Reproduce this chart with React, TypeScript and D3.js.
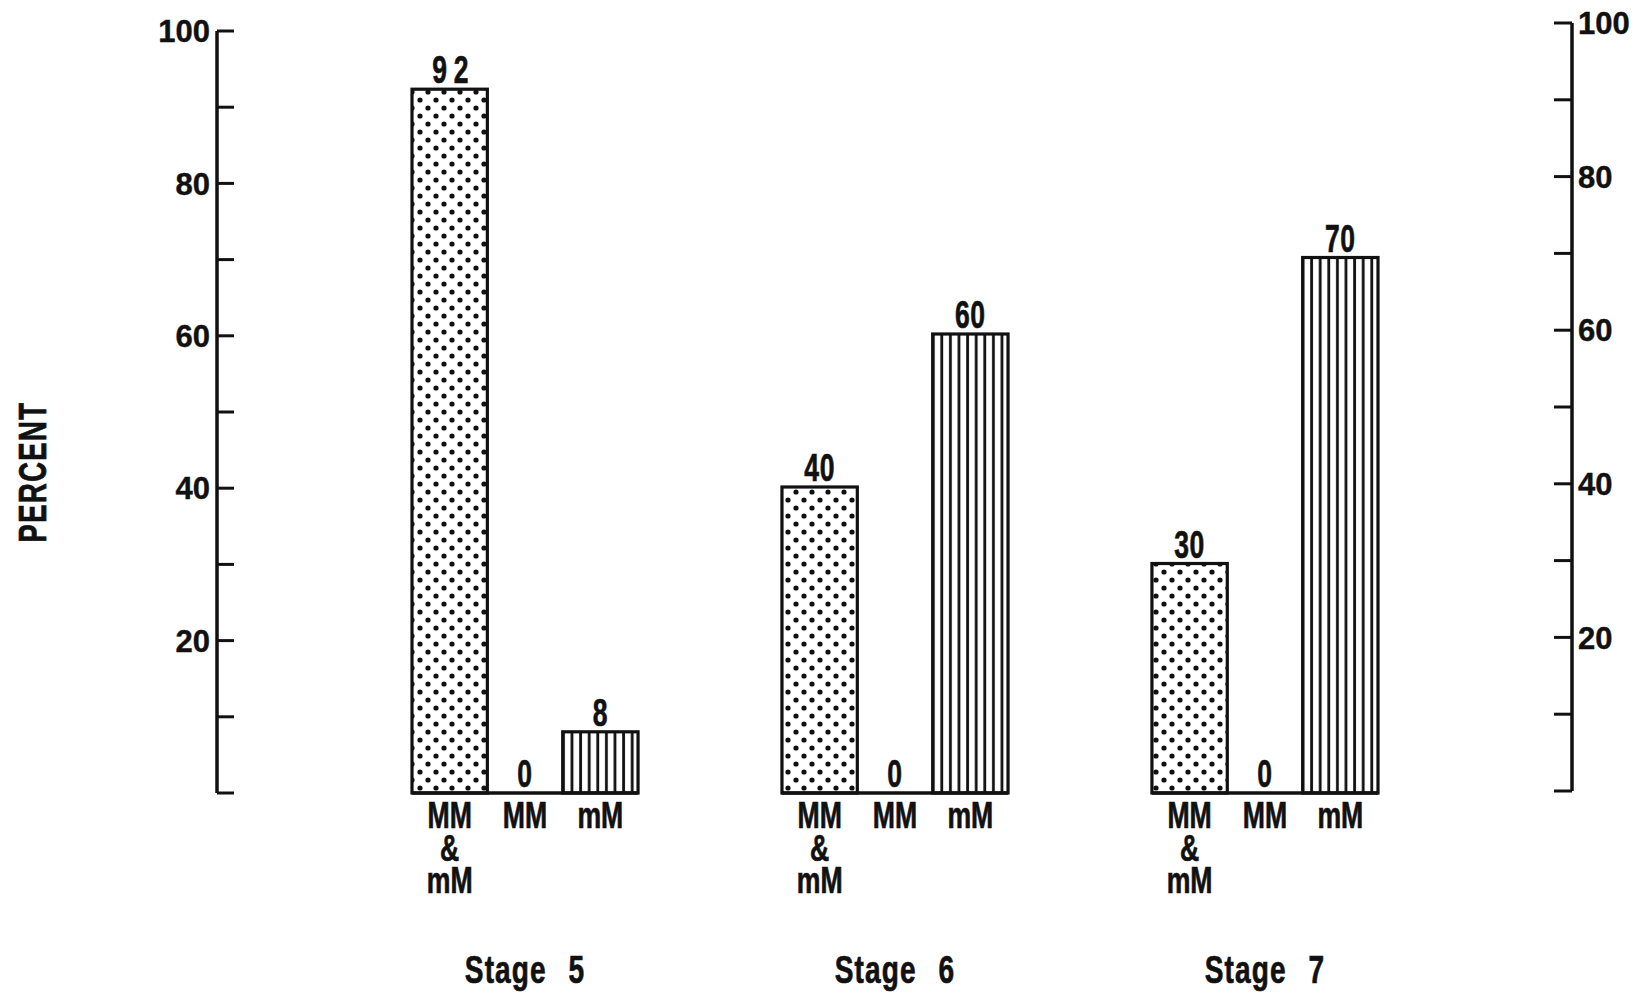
import React from "react";
import * as d3 from "d3";

const stages = ["Stage 5", "Stage 6", "Stage 7"];
const categories = ["MM & mM", "MM", "mM"];
const categoryLines = [["MM", "&", "mM"], ["MM"], ["mM"]];
const stage5 = [92, 0, 8];
const stage6 = [40, 0, 60];
const stage7 = [30, 0, 70];
const seriesByStage = [stage5, stage6, stage7];
const leftTicks = [0, 10, 20, 30, 40, 50, 60, 70, 80, 90, 100];
const leftTickLabels = [20, 40, 60, 80, 100];
const rightTickLabels = [20, 40, 60, 80, 100];
const patterns = ["dots", "none", "lines"];

const W = 1635;
const H = 998;
const sans = "Liberation Sans, Arial, Helvetica, sans-serif";

function CondText(props: {
  x: number;
  y: number;
  size: number;
  sx?: number;
  sy?: number;
  anchor?: string;
  ls?: number;
  ws?: number;
  rotate?: number;
  children: React.ReactNode;
}) {
  const { x, y, size, sx = 0.7, sy = 1, anchor = "middle", ls = 0, ws = 0, rotate = 0 } = props;
  return (
    <text
      transform={`translate(${x},${y}) rotate(${rotate}) scale(${sx},${sy})`}
      textAnchor={anchor}
      fontFamily={sans}
      fontWeight={700}
      fontSize={size}
      letterSpacing={ls}
      wordSpacing={ws}
      fill="#111"
      stroke="#111"
      strokeWidth={0.7}
    >
      {props.children}
    </text>
  );
}

export default function App() {
  const x = d3.scaleBand<string>().domain(stages).range([412, 1378]).paddingInner(0.389).paddingOuter(0);
  const xi = d3.scaleBand<string>().domain(categories).range([0, x.bandwidth()]).padding(0);
  const y = d3.scaleLinear().domain([0, 100]).range([793, 28]);
  const yAxL = d3.scaleLinear().domain([0, 100]).range([793, 31]);
  const yR = d3.scaleLinear().domain([0, 100]).range([791, 23]);
  const axL = 217;
  const axR = 1572;

  return (
    <svg width={W} height={H} style={{ position: "absolute", left: 0, top: 0, background: "#fff" }}>
      <defs>
        <pattern id="dots" patternUnits="userSpaceOnUse" width={16} height={16}>
          <circle cx={4} cy={4} r={2.6} fill="#111" />
          <circle cx={12} cy={12} r={2.6} fill="#111" />
        </pattern>
        <pattern id="lines" patternUnits="userSpaceOnUse" width={8.6} height={10}>
          <rect x={3} y={0} width={2.8} height={10} fill="#111" />
        </pattern>
      </defs>

      {/* Left axis */}
      <line x1={axL} x2={axL} y1={yAxL(100)} y2={yAxL(0)} stroke="#111" strokeWidth={3.5} />
      {leftTicks.map((t) => (
        <line key={"lt" + t} x1={axL} x2={axL + 17} y1={yAxL(t)} y2={yAxL(t)} stroke="#111" strokeWidth={3} />
      ))}
      {leftTickLabels.map((t) => (
        <text key={"ll" + t} x={axL - 7} y={yAxL(t)} dy="0.36em" textAnchor="end" fontFamily={sans} fontWeight={700} fontSize={31} fill="#111" stroke="#111" strokeWidth={0.4}>
          {t}
        </text>
      ))}

      {/* Right axis */}
      <line x1={axR} x2={axR} y1={yR(100)} y2={yR(0)} stroke="#111" strokeWidth={3.5} />
      {leftTicks.map((t) => (
        <line key={"rt" + t} x1={axR - 18} x2={axR} y1={yR(t)} y2={yR(t)} stroke="#111" strokeWidth={3} />
      ))}
      {rightTickLabels.map((t) => (
        <text key={"rl" + t} x={axR + 6} y={yR(t)} dy="0.36em" textAnchor="start" fontFamily={sans} fontWeight={700} fontSize={31} fill="#111" stroke="#111" strokeWidth={0.4}>
          {t}
        </text>
      ))}

      {/* Y label */}
      <CondText x={46} y={472} size={38} sx={0.72} rotate={-90} ls={2}>
        PERCENT
      </CondText>

      {stages.map((s, si) => {
        const gx = x(s) as number;
        const vals = seriesByStage[si];
        return (
          <g key={s}>
            {categories.map((c, ci) => {
              const bx = gx + (xi(c) as number);
              const bw = xi.bandwidth();
              const v = vals[ci];
              const cx = bx + bw / 2;
              return (
                <g key={c}>
                  {v > 0 && (
                    <rect
                      x={bx}
                      y={y(v)}
                      width={bw}
                      height={y(0) - y(v)}
                      fill={patterns[ci] === "dots" ? "url(#dots)" : "url(#lines)"}
                      stroke="#111"
                      strokeWidth={3.2}
                    />
                  )}
                  <CondText x={cx + (v === 92 ? 4 : 0)} y={y(v) - 6} size={39} sx={0.68} ls={v === 92 ? 10 : 1}>
                    {v}
                  </CondText>
                  {categoryLines[ci].map((ln, li) => (
                    <CondText key={li} x={cx} y={828 + li * 32.5} size={37} sx={0.72}>
                      {ln}
                    </CondText>
                  ))}
                </g>
              );
            })}
            <line x1={gx} x2={gx + x.bandwidth()} y1={y(0)} y2={y(0)} stroke="#111" strokeWidth={3.5} />
            <CondText x={gx + x.bandwidth() / 2} y={983} size={39} sx={0.72} ws={18} ls={1.5}>
              {s}
            </CondText>
          </g>
        );
      })}
    </svg>
  );
}
